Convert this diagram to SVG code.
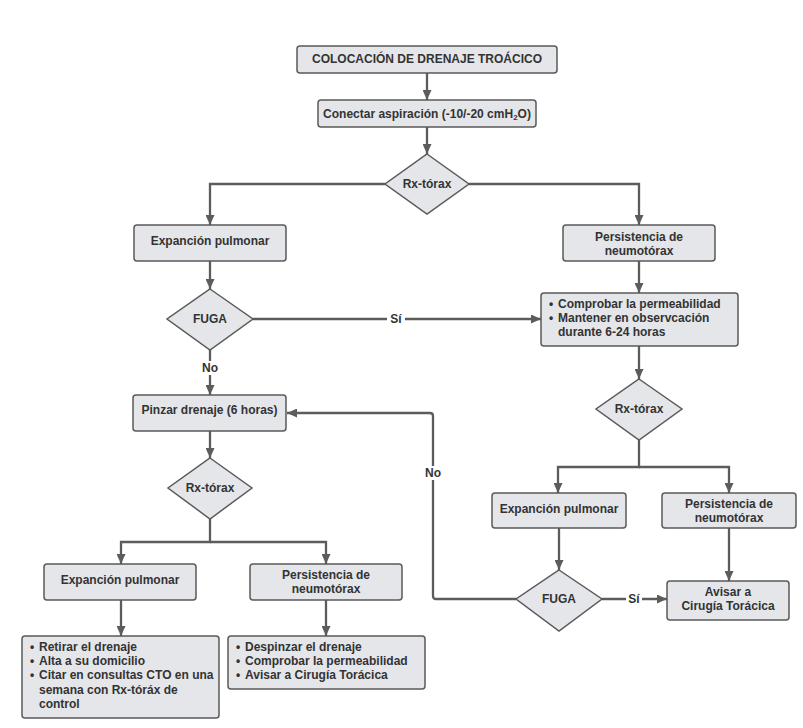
<svg xmlns="http://www.w3.org/2000/svg" width="803" height="728" viewBox="0 0 803 728">
<defs>
<style>
.box{fill:#e4e6ea;stroke:#5a5a5a;stroke-width:1.5}
.t{font-family:"Liberation Sans",Arial,sans-serif;font-size:12px;font-weight:bold;fill:#333;text-anchor:middle}
.l{font-family:"Liberation Sans",Arial,sans-serif;font-size:12px;font-weight:bold;fill:#333;text-anchor:start}
.c{fill:none;stroke:#5c5c5c;stroke-width:2.3}
.lbl{fill:#fff}
</style>
<marker id="ah" markerUnits="userSpaceOnUse" markerWidth="10" markerHeight="9" refX="10" refY="4.5" orient="auto">
<path d="M0,0 L10,4.5 L0,9 z" fill="#5c5c5c"/>
</marker>
</defs>
<rect width="803" height="728" fill="#fff"/>
<g id="connectors">
<path class="c" d="M427,73 V100" marker-end="url(#ah)"/>
<path class="c" d="M427,127 V154" marker-end="url(#ah)"/>
<path class="c" d="M385,184 H210 V225" marker-end="url(#ah)"/>
<path class="c" d="M469,184 H639 V225" marker-end="url(#ah)"/>
<path class="c" d="M210,261 V289" marker-end="url(#ah)"/>
<path class="c" d="M253,319 H541" marker-end="url(#ah)"/>
<path class="c" d="M210,350 V395" marker-end="url(#ah)"/>
<path class="c" d="M639,261 V293" marker-end="url(#ah)"/>
<path class="c" d="M639,346 V379" marker-end="url(#ah)"/>
<path class="c" d="M639,440 V467 H558 V493" marker-end="url(#ah)"/>
<path class="c" d="M639,467 H729 V493" marker-end="url(#ah)"/>
<path class="c" d="M559,528 V570" marker-end="url(#ah)"/>
<path class="c" d="M602,599 H667" marker-end="url(#ah)"/>
<path class="c" d="M729,528 V581" marker-end="url(#ah)"/>
<path class="c" d="M516,599 H436 Q433,599 433,596 V416 Q433,413 430,413 H287" marker-end="url(#ah)"/>
<path class="c" d="M210,431 V458" marker-end="url(#ah)"/>
<path class="c" d="M210,519 V542 H121 V564" marker-end="url(#ah)"/>
<path class="c" d="M210,542 H326 V564" marker-end="url(#ah)"/>
<path class="c" d="M121,600 V636" marker-end="url(#ah)"/>
<path class="c" d="M326,600 V636" marker-end="url(#ah)"/>
<rect class="lbl" x="387" y="312" width="18" height="14"/>
<text class="t" x="396" y="323">Sí</text>
<rect class="lbl" x="200" y="361" width="20" height="14"/>
<text class="t" x="210" y="372">No</text>
<rect class="lbl" x="423" y="466" width="20" height="14"/>
<text class="t" x="433" y="477">No</text>
<rect class="lbl" x="626" y="592" width="16" height="14"/>
<text class="t" x="634" y="603">Sí</text>
</g>
<g id="n_titulo">
<rect class="box" x="297" y="46" width="260" height="27" rx="3"/>
<text class="t" x="427" y="62.5">COLOCACIÓN DE DRENAJE TROÁCICO</text>
</g>
<g id="n_conectar">
<rect class="box" x="318" y="100" width="218" height="27" rx="3"/>
<text class="t" x="427" y="117.5">Conectar aspiración (-10/-20 cmH<tspan font-size="8" dy="2">2</tspan><tspan dy="-2">O)</tspan></text>
</g>
<g id="n_rx1">
<polygon class="box" points="427,154 469,184 427,214 385,184"/>
<text class="t" x="427" y="187.5">Rx-tórax</text>
</g>
<g id="n_exp1">
<rect class="box" x="134" y="225" width="152" height="36" rx="3"/>
<text class="t" x="210" y="245">Expanción pulmonar</text>
</g>
<g id="n_per1">
<rect class="box" x="563" y="225" width="152" height="36" rx="3"/>
<text class="t" x="639" y="241">Persistencia de</text>
<text class="t" x="639" y="255">neumotórax</text>
</g>
<g id="n_fuga1">
<polygon class="box" points="210,289 253,319 210,350 167,319"/>
<text class="t" x="210" y="323">FUGA</text>
</g>
<g id="n_comprobar">
<rect class="box" x="541" y="293" width="197" height="53" rx="3"/>
<text class="l" x="549" y="308">•</text>
<text class="l" x="558" y="308">Comprobar la permeabilidad</text>
<text class="l" x="549" y="322">•</text>
<text class="l" x="558" y="322">Mantener en observcación</text>
<text class="l" x="558" y="336">durante 6-24 horas</text>
</g>
<g id="n_rx2">
<polygon class="box" points="639,379 682,409 639,440 596,409"/>
<text class="t" x="639" y="413">Rx-tórax</text>
</g>
<g id="n_exp2">
<rect class="box" x="492" y="493" width="134" height="35" rx="3"/>
<text class="t" x="559" y="513">Expanción pulmonar</text>
</g>
<g id="n_per2">
<rect class="box" x="662" y="493" width="134" height="35" rx="3"/>
<text class="t" x="729" y="508">Persistencia de</text>
<text class="t" x="729" y="522">neumotórax</text>
</g>
<g id="n_fuga2">
<polygon class="box" points="559,570 602,599 559,631 516,599"/>
<text class="t" x="559" y="603">FUGA</text>
</g>
<g id="n_avisar">
<rect class="box" x="667" y="581" width="122" height="39" rx="3"/>
<text class="t" x="728" y="596">Avisar a</text>
<text class="t" x="728" y="610">Cirugía Torácica</text>
</g>
<g id="n_pinzar">
<rect class="box" x="133" y="395" width="153" height="36" rx="3"/>
<text class="t" x="209.5" y="414">Pinzar drenaje (6 horas)</text>
</g>
<g id="n_rx3">
<polygon class="box" points="210,458 252,488 210,519 168,488"/>
<text class="t" x="210" y="492">Rx-tórax</text>
</g>
<g id="n_exp3">
<rect class="box" x="44" y="564" width="152" height="36" rx="3"/>
<text class="t" x="120" y="584">Expanción pulmonar</text>
</g>
<g id="n_per3">
<rect class="box" x="250" y="564" width="152" height="36" rx="3"/>
<text class="t" x="326" y="579">Persistencia de</text>
<text class="t" x="326" y="593">neumotórax</text>
</g>
<g id="n_retirar">
<rect class="box" x="22" y="636" width="197" height="82" rx="3"/>
<text class="l" x="30" y="651">•</text>
<text class="l" x="39" y="651">Retirar el drenaje</text>
<text class="l" x="30" y="665">•</text>
<text class="l" x="39" y="665">Alta a su domicilio</text>
<text class="l" x="30" y="679">•</text>
<text class="l" x="39" y="679">Citar en consultas CTO en una</text>
<text class="l" x="39" y="694">semana con Rx-tóráx de</text>
<text class="l" x="39" y="708">control</text>
</g>
<g id="n_despinzar">
<rect class="box" x="228" y="636" width="197" height="53" rx="3"/>
<text class="l" x="236" y="651">•</text>
<text class="l" x="245" y="651">Despinzar el drenaje</text>
<text class="l" x="236" y="665">•</text>
<text class="l" x="245" y="665">Comprobar la permeabilidad</text>
<text class="l" x="236" y="679">•</text>
<text class="l" x="245" y="679">Avisar a Cirugía Torácica</text>
</g>
</svg>
